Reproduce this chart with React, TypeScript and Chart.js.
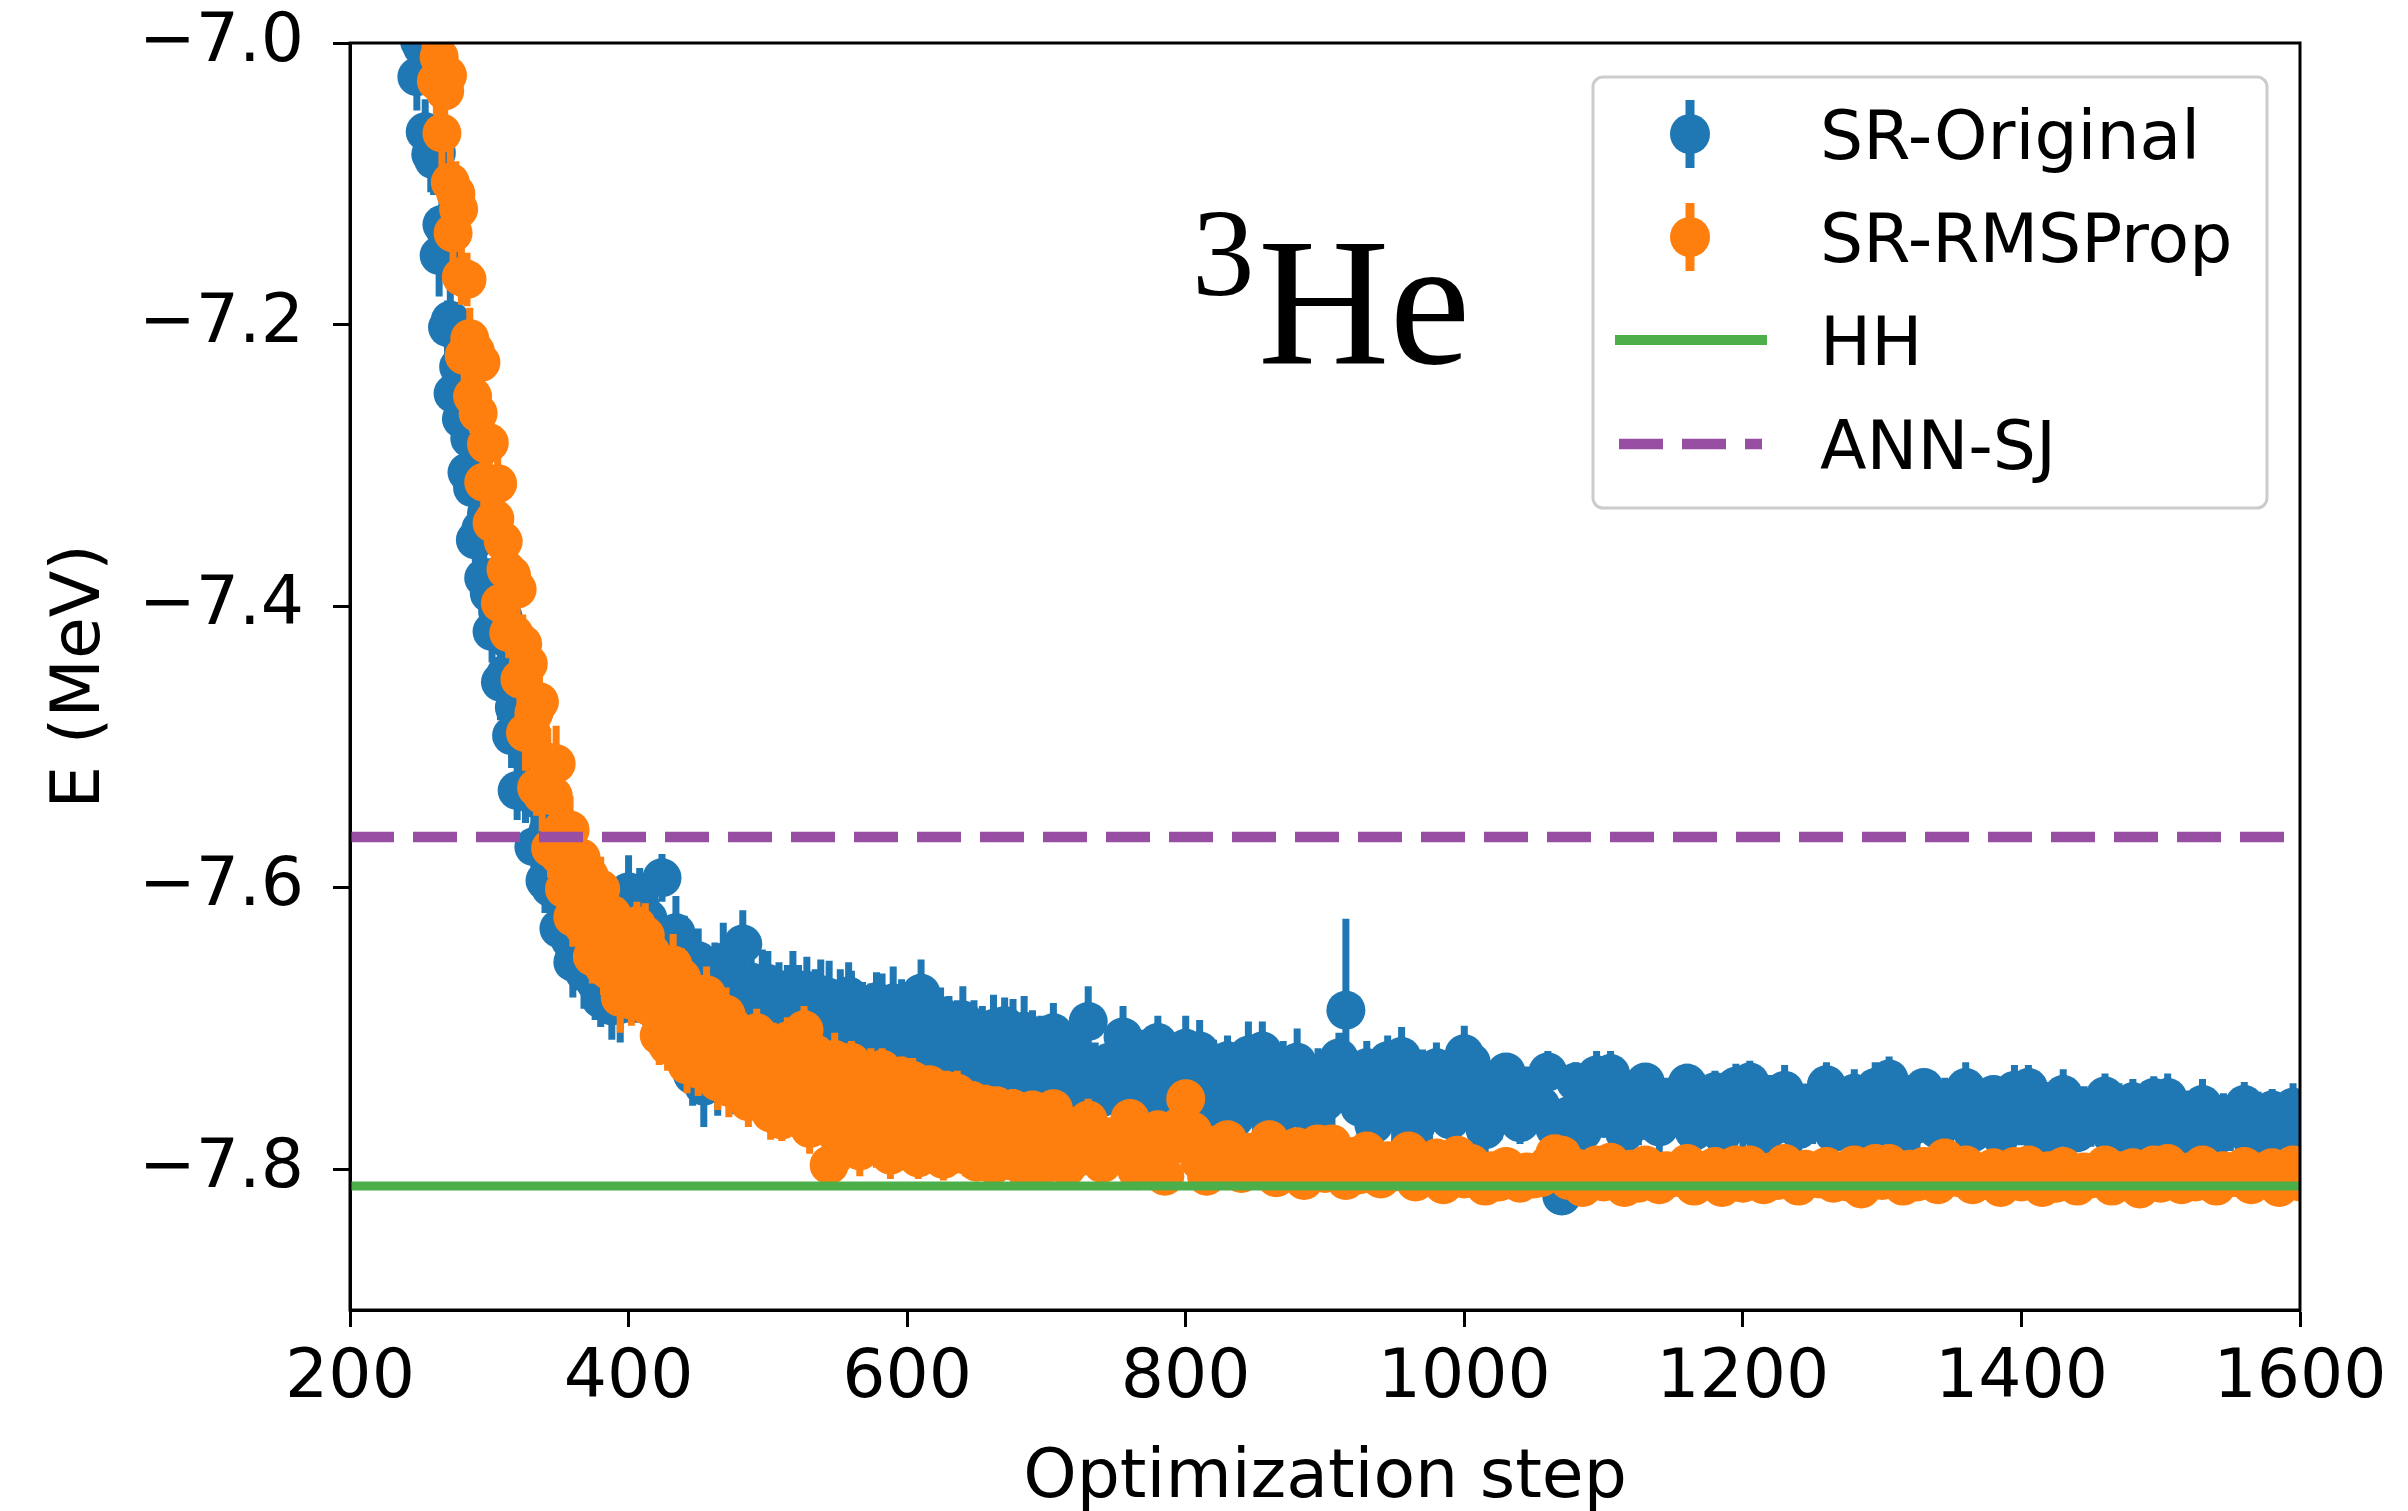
import { useEffect, useRef } from 'react';
import { Chart, registerables } from 'chart.js';

Chart.register(...registerables);

// ---------------- data ----------------
// Optimization steps: 240-398 every 2 steps, 400-698 every 2 steps, 700-1600 every 5 steps.
const steepStart = 240;
const steepStep = 2;
const midStart = 400;
const midStep = 2;
const lateStart = 700;
const lateStep = 5;

const xTicks = [200, 400, 600, 800, 1000, 1200, 1400, 1600];
const yTicks = [-7.8, -7.6, -7.4, -7.2, -7.0];

// SR-Original (E in MeV)
const srOriginalSteep = [
  -6.950, -6.914, -6.968, -6.950, -7.024, -6.999, -7.003, -7.063, -7.014, -7.079,
  -7.083, -7.078, -7.151, -7.129, -7.132, -7.202, -7.197, -7.249, -7.205, -7.230,
  -7.267, -7.231, -7.305, -7.281, -7.316, -7.353, -7.310, -7.345, -7.380, -7.334,
  -7.391, -7.418, -7.383, -7.404, -7.454, -7.408, -7.448, -7.424, -7.492, -7.472,
  -7.531, -7.483, -7.482, -7.532, -7.528, -7.508, -7.571, -7.537, -7.570, -7.524,
  -7.595, -7.560, -7.600, -7.557, -7.598, -7.629, -7.584, -7.609, -7.580, -7.637,
  -7.653, -7.610, -7.598, -7.645, -7.660, -7.613, -7.646, -7.607, -7.667, -7.639,
  -7.679, -7.629, -7.661, -7.623, -7.684, -7.645, -7.632, -7.683, -7.642, -7.663,
];
const srOriginalMid = [
  -7.603, -7.662, -7.628, -7.674, -7.611, -7.648, -7.669, -7.622, -7.655, -7.637,
  -7.688, -7.641, -7.593, -7.672, -7.701, -7.650, -7.683, -7.632, -7.695, -7.660,
  -7.645, -7.712, -7.667, -7.733, -7.690, -7.652, -7.722, -7.741, -7.676, -7.703,
  -7.718, -7.661, -7.735, -7.684, -7.653, -7.726, -7.697, -7.670, -7.739, -7.679,
  -7.712, -7.640, -7.690, -7.725, -7.667, -7.703, -7.680, -7.729, -7.672, -7.699,
  -7.668, -7.719, -7.690, -7.733, -7.677, -7.708, -7.726, -7.683, -7.699, -7.671,
  -7.722, -7.680, -7.711, -7.736, -7.673, -7.697, -7.729, -7.686, -7.715, -7.676,
  -7.731, -7.693, -7.678, -7.719, -7.738, -7.700, -7.683, -7.725, -7.710, -7.677,
  -7.680, -7.722, -7.700, -7.741, -7.687, -7.714, -7.735, -7.692, -7.706, -7.681,
  -7.728, -7.683, -7.716, -7.742, -7.698, -7.682, -7.733, -7.709, -7.690, -7.737,
  -7.702, -7.745, -7.688, -7.722, -7.734, -7.675, -7.712, -7.741, -7.695, -7.727,
  -7.706, -7.746, -7.691, -7.725, -7.737, -7.698, -7.716, -7.748, -7.702, -7.730,
  -7.694, -7.733, -7.711, -7.749, -7.700, -7.726, -7.741, -7.705, -7.719, -7.746,
  -7.737, -7.700, -7.722, -7.751, -7.710, -7.698, -7.744, -7.728, -7.705, -7.739,
  -7.715, -7.750, -7.702, -7.734, -7.745, -7.708, -7.726, -7.753, -7.711, -7.739,
];
const srOriginalLate = [
  -7.745,
  -7.703, -7.736, -7.754, -7.718, -7.744, -7.695, -7.729, -7.749, -7.724, -7.740,
  -7.706, -7.739, -7.756, -7.722, -7.747, -7.710, -7.733, -7.753, -7.729, -7.714,
  -7.743, -7.716, -7.761, -7.731, -7.751, -7.723, -7.764, -7.737, -7.719, -7.754,
  -7.716, -7.749, -7.766, -7.731, -7.756, -7.724, -7.742, -7.762, -7.737, -7.752,
  -7.748, -7.721, -7.687, -7.736, -7.756, -7.728, -7.768, -7.741, -7.723, -7.758,
  -7.720, -7.753, -7.770, -7.735, -7.760, -7.728, -7.745, -7.765, -7.740, -7.718,
  -7.724, -7.755, -7.772, -7.738, -7.762, -7.731, -7.748, -7.767, -7.743, -7.758,
  -7.755, -7.731, -7.771, -7.819, -7.762, -7.738, -7.773, -7.749, -7.733, -7.764,
  -7.732, -7.759, -7.774, -7.745, -7.766, -7.738, -7.753, -7.770, -7.749, -7.761,
  -7.760, -7.739, -7.773, -7.750, -7.766, -7.745, -7.775, -7.754, -7.741, -7.767,
  -7.738, -7.763, -7.776, -7.749, -7.768, -7.744, -7.757, -7.772, -7.753, -7.765,
  -7.761, -7.740, -7.774, -7.751, -7.767, -7.746, -7.776, -7.755, -7.742, -7.768,
  -7.736, -7.762, -7.776, -7.748, -7.768, -7.742, -7.756, -7.772, -7.752, -7.764,
  -7.762, -7.742, -7.774, -7.753, -7.767, -7.747, -7.776, -7.756, -7.744, -7.769,
  -7.742, -7.765, -7.778, -7.753, -7.771, -7.747, -7.760, -7.774, -7.756, -7.767,
  -7.765, -7.748, -7.776, -7.757, -7.770, -7.752, -7.778, -7.760, -7.749, -7.772,
  -7.749, -7.769, -7.779, -7.758, -7.773, -7.754, -7.764, -7.776, -7.761, -7.770,
  -7.769, -7.754, -7.778, -7.762, -7.773, -7.758, -7.779, -7.765, -7.756, -7.774,
];
// error bars, in units of 0.001 MeV
const srOriginalSteepErr = [
  22, 26, 19, 28, 24, 21, 30, 23, 18, 27, 25, 20, 29, 22, 26, 19, 24, 28, 21, 25,
  23, 27, 20, 30, 22, 18, 26, 24, 29, 21, 25, 22, 28, 19, 27, 24, 20, 26, 23, 30,
  21, 25, 28, 22, 19, 27, 24, 26, 20, 29, 23, 25, 21, 28, 24, 26, 22, 30, 20, 27,
  25, 23, 28, 21, 26, 24, 29, 22, 27, 25, 20, 28, 23, 26, 24, 30, 21, 27, 25, 22,
];
const srOriginalMidErr = [
  26, 24, 28, 22, 25, 27, 23, 29, 24, 26, 22, 28, 17, 25, 23, 27, 24, 26, 22, 28,
  25, 24, 28, 22, 26, 23, 27, 29, 24, 25, 26, 22, 27, 24, 28, 23, 25, 27, 22, 26,
  24, 24, 26, 21, 27, 23, 25, 22, 28, 24, 23, 26, 21, 27, 24, 22, 25, 28, 23, 26,
  22, 25, 27, 21, 24, 26, 23, 28, 22, 25, 24, 21, 26, 23, 27, 22, 25, 20, 26, 24,
  21, 26, 23, 25, 20, 27, 22, 24, 26, 21, 25, 22, 27, 23, 21, 26, 24, 22, 25, 20,
  23, 26, 21, 25, 22, 24, 27, 20, 24, 23, 22, 25, 20, 24, 26, 21, 23, 25, 22, 24,
  24, 21, 25, 22, 20, 26, 23, 21, 25, 22, 21, 24, 22, 25, 23, 20, 24, 22, 26, 21,
  23, 20, 25, 22, 24, 21, 23, 25, 20, 24,
];
const srOriginalLateErr = [
  22,
  21, 24, 20, 23, 22, 25, 19, 23, 21, 24, 22, 20, 23, 21, 24, 19, 22, 25, 20, 23,
  20, 22, 19, 23, 21, 18, 22, 20, 24, 19, 21, 23, 18, 22, 20, 24, 19, 21, 23, 20,
  22, 18, 65, 21, 23, 19, 22, 20, 18, 23, 21, 19, 22, 20, 23, 18, 21, 22, 19, 20,
  16, 14, 18, 15, 17, 13, 19, 15, 16, 14, 18, 15, 17, 12, 16, 14, 19, 15, 17, 13,
  16, 18, 14, 15, 17, 13, 16, 19, 14, 15, 17, 14, 16, 18, 13, 15, 17, 14, 16, 18,
  15, 13, 17, 16, 14, 18, 15, 16, 13, 17, 14, 16, 18, 15, 13, 17, 16, 14, 18, 15,
  16, 17, 14, 15, 18, 13, 16, 15, 17, 14, 15, 18, 16, 14, 17, 13, 15, 16, 18, 14,
  16, 14, 17, 15, 13, 18, 16, 14, 15, 17, 14, 16, 15, 18, 14, 16, 13, 17, 15, 16,
  17, 14, 16, 13, 15, 18, 14, 16, 15, 17, 15, 16, 13, 17, 14, 15, 16, 14, 17, 15,
];

// SR-RMSProp (E in MeV)
const srRmsPropSteep = [
  -6.804, -6.861, -6.822, -6.885, -6.922, -6.891, -6.924, -6.983, -6.931, -6.988,
  -6.955, -7.027, -7.010, -7.064, -7.034, -7.023, -7.099, -7.135, -7.107, -7.118,
  -7.166, -7.222, -7.168, -7.210, -7.251, -7.219, -7.263, -7.227, -7.312, -7.285,
  -7.284, -7.341, -7.338, -7.313, -7.398, -7.354, -7.374, -7.419, -7.378, -7.420,
  -7.388, -7.452, -7.427, -7.490, -7.441, -7.489, -7.476, -7.529, -7.468, -7.534,
  -7.528, -7.511, -7.572, -7.535, -7.512, -7.577, -7.559, -7.601, -7.564, -7.559,
  -7.621, -7.585, -7.608, -7.579, -7.628, -7.610, -7.592, -7.649, -7.609, -7.638,
  -7.601, -7.656, -7.635, -7.659, -7.619, -7.656, -7.632, -7.678, -7.645, -7.660,
];
const srRmsPropMid = [
  -7.637, -7.680, -7.652, -7.627, -7.668, -7.659, -7.634, -7.684, -7.646, -7.671,
  -7.667, -7.705, -7.658, -7.690, -7.712, -7.676, -7.655, -7.699, -7.683, -7.664,
  -7.690, -7.726, -7.679, -7.709, -7.697, -7.729, -7.685, -7.715, -7.676, -7.703,
  -7.721, -7.693, -7.738, -7.709, -7.727, -7.690, -7.742, -7.714, -7.700, -7.731,
  -7.741, -7.706, -7.727, -7.752, -7.716, -7.735, -7.703, -7.748, -7.722, -7.711,
  -7.731, -7.760, -7.712, -7.745, -7.722, -7.765, -7.738, -7.709, -7.753, -7.727,
  -7.759, -7.728, -7.712, -7.701, -7.744, -7.771, -7.735, -7.718, -7.762, -7.750,
  -7.731, -7.768, -7.797, -7.742, -7.722, -7.776, -7.755, -7.726, -7.783, -7.747,
  -7.724, -7.770, -7.748, -7.787, -7.736, -7.760, -7.779, -7.730, -7.754, -7.784,
  -7.743, -7.729, -7.776, -7.757, -7.790, -7.738, -7.766, -7.782, -7.734, -7.760,
  -7.750, -7.788, -7.737, -7.769, -7.792, -7.745, -7.761, -7.778, -7.740, -7.773,
  -7.784, -7.750, -7.765, -7.793, -7.744, -7.774, -7.757, -7.789, -7.746, -7.770,
  -7.759, -7.790, -7.770, -7.751, -7.782, -7.795, -7.763, -7.776, -7.754, -7.786,
  -7.768, -7.797, -7.755, -7.781, -7.790, -7.760, -7.774, -7.794, -7.757, -7.779,
  -7.788, -7.761, -7.799, -7.772, -7.783, -7.758, -7.794, -7.777, -7.766, -7.797,
];
const srRmsPropLate = [
  -7.788,
  -7.757, -7.783, -7.798, -7.770, -7.791, -7.765, -7.780, -7.796, -7.777, -7.789,
  -7.786, -7.764, -7.801, -7.777, -7.794, -7.772, -7.805, -7.783, -7.770, -7.750,
  -7.773, -7.794, -7.805, -7.783, -7.799, -7.779, -7.790, -7.803, -7.788, -7.797,
  -7.795, -7.779, -7.806, -7.788, -7.801, -7.784, -7.808, -7.792, -7.782, -7.803,
  -7.782, -7.799, -7.808, -7.791, -7.804, -7.787, -7.796, -7.807, -7.794, -7.802,
  -7.800, -7.787, -7.809, -7.795, -7.805, -7.792, -7.811, -7.798, -7.790, -7.807,
  -7.796, -7.806, -7.812, -7.801, -7.809, -7.798, -7.804, -7.810, -7.802, -7.807,
  -7.806, -7.797, -7.789, -7.790, -7.808, -7.799, -7.813, -7.803, -7.797, -7.809,
  -7.795, -7.805, -7.813, -7.800, -7.810, -7.797, -7.803, -7.811, -7.801, -7.806,
  -7.805, -7.796, -7.812, -7.801, -7.807, -7.798, -7.813, -7.802, -7.797, -7.810,
  -7.797, -7.807, -7.811, -7.802, -7.808, -7.796, -7.805, -7.812, -7.800, -7.806,
  -7.807, -7.798, -7.810, -7.803, -7.809, -7.797, -7.814, -7.801, -7.796, -7.808,
  -7.796, -7.806, -7.812, -7.800, -7.809, -7.798, -7.805, -7.811, -7.792, -7.803,
  -7.806, -7.797, -7.811, -7.802, -7.808, -7.799, -7.813, -7.803, -7.798, -7.809,
  -7.797, -7.805, -7.813, -7.801, -7.810, -7.798, -7.804, -7.812, -7.802, -7.807,
  -7.805, -7.797, -7.812, -7.801, -7.808, -7.799, -7.814, -7.802, -7.797, -7.810,
  -7.796, -7.806, -7.811, -7.802, -7.809, -7.797, -7.804, -7.812, -7.801, -7.806,
  -7.806, -7.798, -7.811, -7.802, -7.807, -7.799, -7.813, -7.803, -7.797, -7.809,
];
const srRmsPropSteepErr = [
  20, 24, 18, 26, 22, 19, 25, 21, 27, 23, 19, 24, 20, 26, 22, 18, 25, 21, 23, 27,
  20, 24, 19, 22, 26, 21, 18, 25, 23, 20, 24, 22, 27, 19, 21, 25, 23, 18, 26, 22,
  20, 24, 21, 27, 19, 23, 25, 20, 22, 26, 18, 24, 21, 23, 27, 19, 22, 25, 20, 24,
  21, 18, 23, 26, 20, 22, 24, 19, 25, 21, 23, 20, 26, 22, 18, 24, 21, 25, 19, 23,
];
const srRmsPropMidErr = [
  20, 18, 22, 17, 21, 19, 23, 18, 20, 22, 17, 21, 19, 23, 18, 20, 22, 17, 19, 21,
  18, 20, 22, 17, 21, 19, 23, 18, 20, 19, 21, 18, 20, 22, 17, 19, 21, 18, 20, 22,
  19, 17, 21, 18, 20, 22, 17, 19, 21, 18, 17, 19, 16, 20, 18, 15, 19, 17, 16, 20,
  18, 15, 19, 17, 16, 18, 15, 17, 19, 16, 16, 18, 15, 17, 19, 16, 18, 15, 17, 16,
  15, 17, 16, 18, 15, 17, 14, 16, 18, 15, 17, 15, 16, 14, 17, 16, 15, 17, 14, 16,
  15, 14, 16, 13, 15, 14, 16, 15, 13, 15, 14, 16, 13, 15, 14, 13, 15, 14, 16, 13,
  13, 15, 14, 12, 14, 13, 15, 12, 14, 13, 14, 12, 13, 15, 12, 14, 13, 12, 14, 13,
  12, 14, 13, 12, 14, 13, 12, 14, 13, 12,
];
const srRmsPropLateErr = [
  14,
  13, 15, 12, 14, 13, 15, 12, 14, 13, 12, 14, 12, 13, 11, 14, 12, 13, 11, 12, 13,
  11, 10, 12, 9, 11, 10, 12, 10, 9, 11, 10, 12, 9, 11, 10, 9, 11, 10, 12, 9,
  10, 11, 9, 10, 12, 9, 11, 10, 9, 10, 11, 9, 10, 12, 9, 10, 11, 9, 10, 10,
  9, 10, 8, 11, 9, 10, 8, 9, 11, 10, 8, 9, 10, 8, 11, 9, 10, 9, 8, 10,
  11, 9, 8, 10, 9, 11, 8, 10, 9, 8, 10, 9, 11, 8, 10, 9, 8, 10, 11, 9,
  9, 8, 10, 11, 9, 8, 10, 9, 11, 8, 10, 9, 8, 11, 10, 9, 8, 10, 9, 11,
  8, 10, 9, 11, 8, 9, 10, 8, 11, 9, 10, 8, 9, 10, 11, 9, 8, 10, 9, 8,
  9, 11, 10, 8, 9, 10, 11, 8, 9, 10, 11, 9, 8, 10, 9, 8, 11, 10, 9, 8,
  9, 10, 11, 8, 10, 9, 8, 11, 9, 10, 10, 8, 9, 11, 9, 10, 8, 9, 10, 11,
];

// reference energies (MeV)
const hhEnergy = -7.812;
const annSjEnergy = -7.564;

// ---------------- styling ----------------
const W = 2408;
const H = 1511;
const FONT = "'DejaVu Sans', 'Liberation Sans', sans-serif";
const SERIF = "'Liberation Serif', 'DejaVu Serif', serif";
const BLUE = '#1f77b4';
const ORANGE = '#ff7f0e';
const GREEN = '#4daf4a';
const PURPLE = '#984ea3';
const MARKER_R = 19.5;
const BAR_W = 7;

type Pt = { x: number; y: number; e: number };

function toPoints(start: number, step: number, values: number[], errs: number[]): Pt[] {
  return values.map((y, i) => ({ x: start + i * step, y, e: (errs[i] ?? 15) / 1000 }));
}

const blueData = [
  ...toPoints(steepStart, steepStep, srOriginalSteep, srOriginalSteepErr),
  ...toPoints(midStart, midStep, srOriginalMid, srOriginalMidErr),
  ...toPoints(lateStart, lateStep, srOriginalLate, srOriginalLateErr),
];
const orangeData = [
  ...toPoints(steepStart, steepStep, srRmsPropSteep, srRmsPropSteepErr),
  ...toPoints(midStart, midStep, srRmsPropMid, srRmsPropMidErr),
  ...toPoints(lateStart, lateStep, srRmsPropLate, srRmsPropLateErr),
];

const errorBarPlugin = {
  id: 'errorBars',
  beforeDatasetDraw(chart: any, args: any) {
    const ds = chart.data.datasets[args.index];
    if (!ds.errorBars) return;
    const { ctx, chartArea } = chart;
    const xs = chart.scales.x;
    const ys = chart.scales.y;
    ctx.save();
    ctx.beginPath();
    ctx.rect(chartArea.left, chartArea.top, chartArea.right - chartArea.left, chartArea.bottom - chartArea.top);
    ctx.clip();
    ctx.beginPath();
    ctx.strokeStyle = ds.backgroundColor;
    ctx.lineWidth = BAR_W;
    ctx.lineCap = 'butt';
    for (const p of ds.data as Pt[]) {
      const px = xs.getPixelForValue(p.x);
      ctx.moveTo(px, ys.getPixelForValue(p.y + p.e));
      ctx.lineTo(px, ys.getPixelForValue(p.y - p.e));
    }
    ctx.stroke();
    ctx.restore();
  },
};

const decorPlugin = {
  id: 'decor',
  beforeDraw(chart: any) {
    const { ctx } = chart;
    ctx.save();
    ctx.fillStyle = '#ffffff';
    ctx.fillRect(0, 0, chart.width, chart.height);
    ctx.restore();
  },
  afterDraw(chart: any) {
    const { ctx, chartArea: a } = chart;
    ctx.save();
    // frame
    ctx.strokeStyle = '#000';
    ctx.lineWidth = 3;
    ctx.strokeRect(a.left, a.top, a.right - a.left, a.bottom - a.top);

    // axis titles
    ctx.fillStyle = '#000';
    ctx.font = `68px ${FONT}`;
    ctx.textAlign = 'center';
    ctx.textBaseline = 'alphabetic';
    ctx.fillText('Optimization step', (a.left + a.right) / 2, 1497);
    ctx.save();
    ctx.translate(99, (a.top + a.bottom) / 2);
    ctx.rotate(-Math.PI / 2);
    ctx.fillText('E (MeV)', 0, 0);
    ctx.restore();

    // nucleus label
    ctx.textAlign = 'left';
    ctx.font = `125px ${SERIF}`;
    ctx.fillText('3', 1192, 295);
    ctx.font = `182px ${SERIF}`;
    ctx.fillText('He', 1258, 363);

    // legend
    ctx.beginPath();
    (ctx as any).roundRect(1593, 77, 674, 431, 10);
    ctx.fillStyle = 'rgba(255,255,255,0.8)';
    ctx.fill();
    ctx.lineWidth = 3;
    ctx.strokeStyle = '#cccccc';
    ctx.stroke();

    const rows = [
      { label: 'SR-Original', kind: 'err', color: BLUE, y: 134 },
      { label: 'SR-RMSProp', kind: 'err', color: ORANGE, y: 237 },
      { label: 'HH', kind: 'solid', color: GREEN, y: 340 },
      { label: 'ANN-SJ', kind: 'dash', color: PURPLE, y: 444 },
    ];
    for (const r of rows) {
      if (r.kind === 'err') {
        ctx.strokeStyle = r.color;
        ctx.lineWidth = 9;
        ctx.beginPath();
        ctx.moveTo(1690, r.y - 34);
        ctx.lineTo(1690, r.y + 34);
        ctx.stroke();
        ctx.fillStyle = r.color;
        ctx.beginPath();
        ctx.arc(1690, r.y, 20, 0, Math.PI * 2);
        ctx.fill();
      } else {
        ctx.strokeStyle = r.color;
        ctx.lineWidth = r.kind === 'solid' ? 10 : 10.5;
        ctx.setLineDash(r.kind === 'dash' ? [44, 19] : []);
        ctx.beginPath();
        ctx.moveTo(r.kind === 'dash' ? 1619 : 1615, r.y);
        ctx.lineTo(r.kind === 'dash' ? 1762 : 1767, r.y);
        ctx.stroke();
        ctx.setLineDash([]);
      }
      ctx.fillStyle = '#000';
      ctx.font = `68px ${FONT}`;
      ctx.textAlign = 'left';
      ctx.textBaseline = 'alphabetic';
      ctx.fillText(r.label, 1820, r.y + 25);
    }
    ctx.restore();
  },
};

function fmtY(v: number) {
  return (v < 0 ? '\u2212' : '') + Math.abs(v).toFixed(1);
}

export default function App() {
  const ref = useRef<HTMLCanvasElement>(null);

  useEffect(() => {
    if (!ref.current) return;
    const tickFont = { family: FONT, size: 68 };
    const chart = new Chart(ref.current, {
      type: 'scatter',
      data: {
        datasets: [
          {
            label: 'ANN-SJ',
            data: [
              { x: xTicks[0], y: annSjEnergy },
              { x: xTicks[xTicks.length - 1], y: annSjEnergy },
            ],
            showLine: true,
            borderColor: PURPLE,
            borderWidth: 10.5,
            borderDash: [44, 19],
            pointRadius: 0,
            order: 0,
          } as any,
          {
            label: 'HH',
            data: [
              { x: xTicks[0], y: hhEnergy },
              { x: xTicks[xTicks.length - 1], y: hhEnergy },
            ],
            showLine: true,
            borderColor: GREEN,
            borderWidth: 9,
            pointRadius: 0,
            order: 1,
          } as any,
          {
            label: 'SR-RMSProp',
            data: orangeData,
            errorBars: true,
            backgroundColor: ORANGE,
            borderColor: ORANGE,
            pointRadius: MARKER_R,
            pointHoverRadius: MARKER_R,
            pointBorderWidth: 0,
            showLine: false,
            clip: 0,
            order: 2,
          } as any,
          {
            label: 'SR-Original',
            data: blueData,
            errorBars: true,
            backgroundColor: BLUE,
            borderColor: BLUE,
            pointRadius: MARKER_R,
            pointHoverRadius: MARKER_R,
            pointBorderWidth: 0,
            showLine: false,
            clip: 0,
            order: 3,
          } as any,
        ],
      },
      options: {
        animation: false,
        responsive: false,
        devicePixelRatio: 1,
        events: [],
        layout: { padding: { left: 0, right: 108, top: 43, bottom: 0 } },
        plugins: {
          legend: { display: false },
          tooltip: { enabled: false },
          title: { display: false },
        },
        scales: {
          x: {
            type: 'linear',
            min: xTicks[0],
            max: xTicks[xTicks.length - 1],
            afterBuildTicks: (s: any) => {
              s.ticks = xTicks.map((v) => ({ value: v }));
            },
            ticks: {
              font: tickFont,
              color: '#000',
              padding: 12,
              maxRotation: 0,
              autoSkip: false,
              callback: (v: any) => String(v),
            },
            grid: {
              display: true,
              drawOnChartArea: false,
              drawTicks: true,
              tickLength: 17,
              tickWidth: 3,
              tickColor: '#000',
            },
            border: { display: true, color: '#000', width: 3 },
            afterFit: (s: any) => {
              s.height = 201;
              s.paddingLeft = 0;
              s.paddingRight = 0;
            },
          },
          y: {
            type: 'linear',
            min: -7.9,
            max: -7.0,
            afterBuildTicks: (s: any) => {
              s.ticks = yTicks.map((v) => ({ value: v }));
            },
            ticks: {
              font: tickFont,
              color: '#000',
              padding: 29,
              autoSkip: false,
              callback: (v: any) => fmtY(Number(v)),
            },
            grid: {
              display: true,
              drawOnChartArea: false,
              drawTicks: true,
              tickLength: 17,
              tickWidth: 3,
              tickColor: '#000',
            },
            border: { display: true, color: '#000', width: 3 },
            afterFit: (s: any) => {
              s.width = 350;
              s.paddingTop = 0;
              s.paddingBottom = 0;
            },
          },
        },
      } as any,
      plugins: [errorBarPlugin, decorPlugin],
    });
    return () => chart.destroy();
  }, []);

  return (
    <div style={{ position: 'fixed', left: 0, top: 0, width: W, height: H, background: '#fff' }}>
      <canvas ref={ref} width={W} height={H} style={{ width: W, height: H, display: 'block' }} />
    </div>
  );
}
